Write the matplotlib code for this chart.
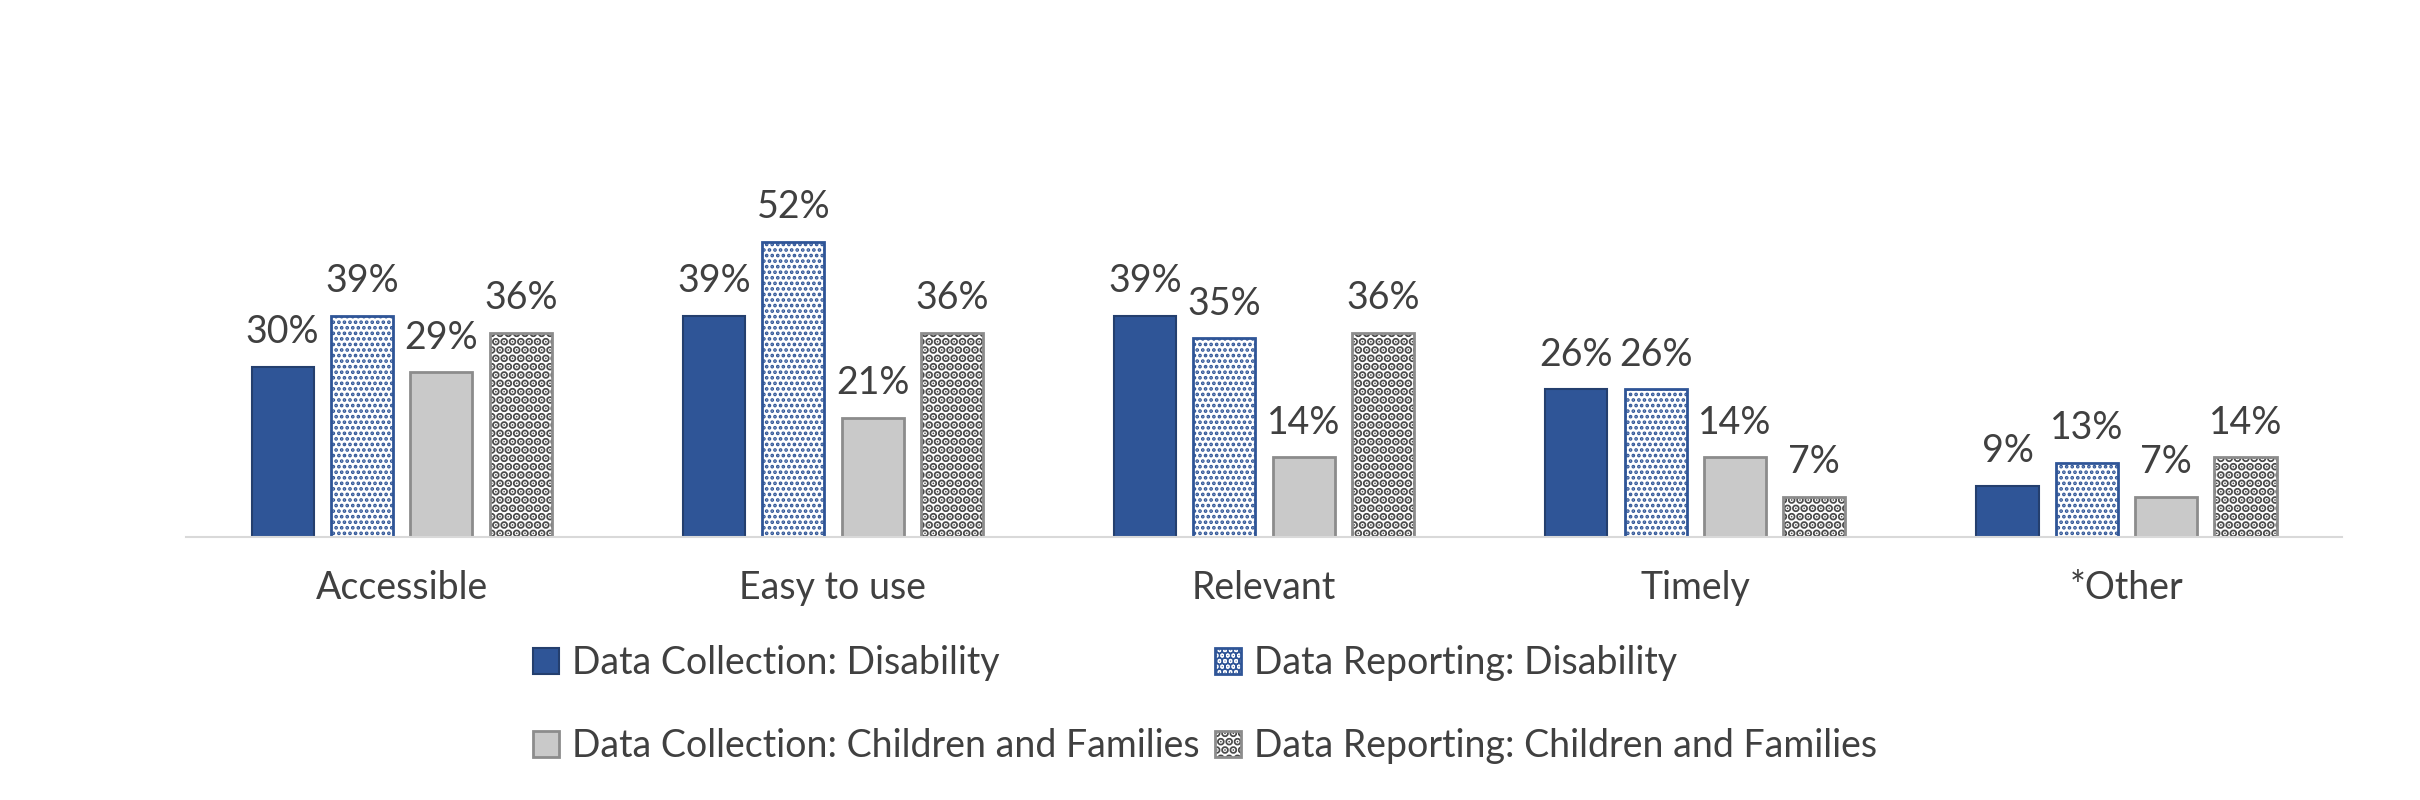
import matplotlib.pyplot as plt
import numpy as np

categories = ['Accessible', 'Easy to use', 'Relevant', 'Timely', '*Other']
dc_disability = [30, 39, 39, 26, 9]
dr_disability = [39, 52, 35, 26, 13]
dc_children = [29, 21, 14, 14, 7]
dr_children = [36, 36, 36, 7, 14]

plt.rcParams['font.family'] = ['Lato', 'DejaVu Sans']

fig = plt.figure(figsize=(24.2, 8), dpi=100)
ax = fig.add_axes([0.0769, 0.329, 0.8909, 0.425])

x = np.arange(len(categories))
w = 0.144
pitch = 0.184
offsets = [-1.5 * pitch, -0.5 * pitch, 0.5 * pitch, 1.5 * pitch]

plt.rcParams['hatch.linewidth'] = 1.8
b1 = ax.bar(x + offsets[0], dc_disability, w, color='#2F5597', edgecolor='#243f6e', linewidth=1.5)
b2 = ax.bar(x + offsets[1], dr_disability, w, color='white', edgecolor='#2F5597', hatch='...', linewidth=2)
b3 = ax.bar(x + offsets[2], dc_children, w, color='#C9C9C9', edgecolor='#8C8C8C', linewidth=2)
# checker-like texture in dark grey, outline drawn on top in lighter grey
plt.rcParams['hatch.linewidth'] = 4.2
b4 = ax.bar(x + offsets[3], dr_children, w, color='white', edgecolor='#4a4a4a', hatch='..', linewidth=0)
b4_edge = ax.bar(x + offsets[3], dr_children, w, facecolor='none', edgecolor='#8C8C8C', linewidth=2)

for b in [b1, b2, b3, b4]:
    ax.bar_label(b, labels=[f'{v:.0f}%' for v in b.datavalues], padding=12, fontsize=27, color='#404040')

ax.set_xlim(-0.5, len(categories) - 0.5)
ax.set_ylim(0, 60)
ax.set_xticks(x)
ax.set_xticklabels(categories, fontsize=27, color='#404040')
ax.tick_params(axis='x', length=0, pad=24)
ax.set_yticks([])
for s in ['top', 'left', 'right']:
    ax.spines[s].set_visible(False)
ax.spines['bottom'].set_color('#D9D9D9')
ax.spines['bottom'].set_linewidth(1.5)

fig.legend([b1, b3, b2, (b4, b4_edge)],
           ['Data Collection: Disability', 'Data Collection: Children and Families',
            'Data Reporting: Disability', 'Data Reporting: Children and Families'],
           ncol=2, loc='center', bbox_to_anchor=(0.498, 0.119), frameon=False,
           fontsize=27, labelcolor='#404040', handlelength=0.7, handleheight=0.7,
           handletextpad=0.35, columnspacing=0.4, labelspacing=1.25)

fig.savefig('out.png', dpi=100)
